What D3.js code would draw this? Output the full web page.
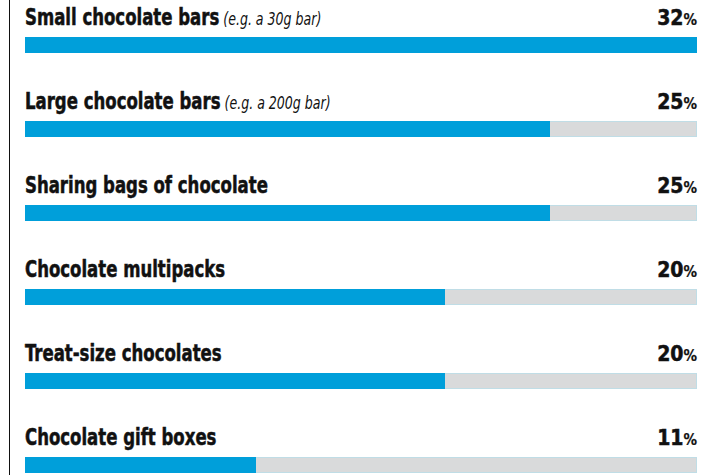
<!DOCTYPE html>
<html>
<head>
<meta charset="UTF-8">
<title>Chocolate</title>
<script src="https://cdn.jsdelivr.net/npm/d3@7"></script>
<style>
  body { margin: 0; background: #fff; }
  .label { font-family: "DejaVu Sans Condensed", sans-serif; font-weight: bold; fill: #111; }
  .note { font-weight: normal; font-style: italic; }
  .track { fill: #d9dadb; stroke: #c0dde6; stroke-width: 1; }
  .bar { fill: #009fda; }
</style>
</head>
<body>
<svg width="718" height="475"></svg>
<script>
var categories = ["Small chocolate bars", "Large chocolate bars", "Sharing bags of chocolate",
                  "Chocolate multipacks", "Treat-size chocolates", "Chocolate gift boxes"];
var notes = ["(e.g. a 30g bar)", "(e.g. a 200g bar)", "", "", "", ""];
var values = [32, 25, 25, 20, 20, 11];

var svg = d3.select("svg"),
    margin = {top: 37, left: 25, right: 21},
    width = 718 - margin.left - margin.right,
    barH = 16, step = 84;

var x = d3.scaleLinear().domain([0, 32]).range([0, width]);
var y = d3.scaleBand().domain(categories).range([margin.top, margin.top + step * categories.length]);

// left rule
svg.append("line").attr("x1", 9.5).attr("x2", 9.5).attr("y1", 0).attr("y2", 475)
    .attr("stroke", "#111").attr("stroke-width", 1);

var g = svg.append("g").attr("transform", "translate(" + margin.left + ",0)");

var row = g.selectAll(".row")
  .data(categories)
  .enter().append("g")
    .attr("class", "row")
    .attr("transform", function(d) { return "translate(0," + y(d) + ")"; });

row.append("rect").attr("class", "track")
    .attr("x", 0.5).attr("y", 0.5).attr("width", width - 1).attr("height", barH - 1);

row.append("rect").attr("class", "bar")
    .attr("x", 0).attr("y", 0)
    .attr("width", function(d, i) { return x(values[i]); })
    .attr("height", barH);

// condensed look: squeeze the label horizontally
var lab = row.append("text").attr("class", "label")
    .attr("transform", "translate(0,-12) scale(0.8,1)")
    .style("font-size", "23px")
    .style("stroke", "#111").style("stroke-width", 0.5);
lab.append("tspan").text(function(d) { return d; });
lab.append("tspan").attr("class", "note")
    .style("font-size", "17.5px").style("stroke-width", 0)
    .text(function(d, i) { return notes[i] ? " " + notes[i] : ""; });

var val = row.append("text").attr("class", "label")
    .attr("x", width).attr("y", -12)
    .attr("text-anchor", "end")
    .style("font-size", "21px")
    .style("stroke", "#111").style("stroke-width", 0.5);
val.append("tspan").text(function(d, i) { return values[i]; });
val.append("tspan").style("font-size", "15px").style("stroke-width", 0.2).text("%");
</script>
</body>
</html>
